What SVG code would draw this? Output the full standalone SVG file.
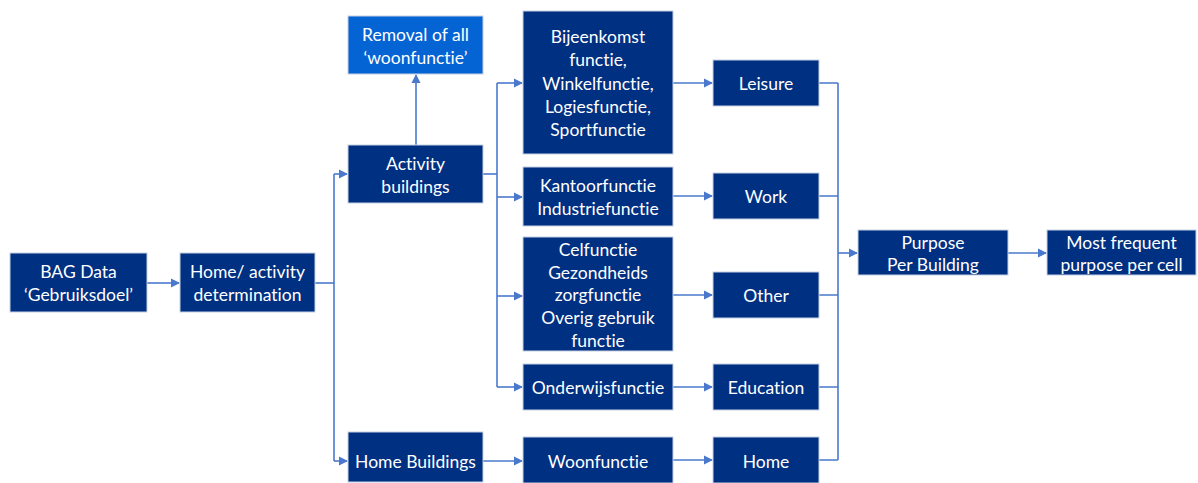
<svg xmlns="http://www.w3.org/2000/svg" width="1198" height="483" viewBox="0 0 1198 483">
  <style>
    .box { fill: #003082; stroke: #c5d0e3; stroke-width: 1; }
    .box2 { fill: #0564D4; stroke: #c5d0e3; stroke-width: 1; }
    text { font-family: Lato, "Liberation Sans", sans-serif; font-size: 17.5px; fill: #ffffff; text-anchor: middle; dominant-baseline: central; font-variant-ligatures: none; font-feature-settings: "liga" 0, "clig" 0; }
    .conn { fill: none; stroke: #4a78cc; stroke-width: 1.6; }
  </style>
  <defs>
    <marker id="arr" markerWidth="10" markerHeight="10" refX="8" refY="5" orient="auto" markerUnits="userSpaceOnUse">
      <path d="M0,0.5 L9,5 L0,9.5 Z" fill="#4a78cc"/>
    </marker>
  </defs>
  <rect width="1198" height="483" fill="#ffffff"/>

  <g id="connectors">
    <path class="conn" d="M147,283 H179" marker-end="url(#arr)"/>
    <path class="conn" d="M315,283 H334"/>
    <path class="conn" d="M334,174 V461"/>
    <path class="conn" d="M334,174 H347" marker-end="url(#arr)"/>
    <path class="conn" d="M334,461 H347" marker-end="url(#arr)"/>
    <path class="conn" d="M416,145 V75" marker-end="url(#arr)"/>
    <path class="conn" d="M483,174 H497"/>
    <path class="conn" d="M497,83 V387"/>
    <path class="conn" d="M497,83 H522" marker-end="url(#arr)"/>
    <path class="conn" d="M497,197 H522" marker-end="url(#arr)"/>
    <path class="conn" d="M497,296 H522" marker-end="url(#arr)"/>
    <path class="conn" d="M497,387 H522" marker-end="url(#arr)"/>
    <path class="conn" d="M483,461 H522" marker-end="url(#arr)"/>
    <path class="conn" d="M673,83 H712" marker-end="url(#arr)"/>
    <path class="conn" d="M673,196 H712" marker-end="url(#arr)"/>
    <path class="conn" d="M673,295 H712" marker-end="url(#arr)"/>
    <path class="conn" d="M673,387 H712" marker-end="url(#arr)"/>
    <path class="conn" d="M673,460 H712" marker-end="url(#arr)"/>
    <path class="conn" d="M819,83 H838 M819,196 H838 M819,295 H838 M819,387 H838 M819,460 H838"/>
    <path class="conn" d="M838,83 V460"/>
    <path class="conn" d="M838,253 H857" marker-end="url(#arr)"/>
    <path class="conn" d="M1008,253 H1046" marker-end="url(#arr)"/>
  </g>

  <g id="bag">
    <rect class="box" x="10" y="253" width="137" height="59"/>
    <text x="78.5" y="271">BAG Data</text>
    <text x="78.5" y="294">‘Gebruiksdoel’</text>
  </g>
  <g id="home-activity">
    <rect class="box" x="180" y="253" width="135" height="59"/>
    <text x="247.5" y="271">Home/ activity</text>
    <text x="247.5" y="294">determination</text>
  </g>
  <g id="removal">
    <rect class="box2" x="348" y="16" width="135" height="58"/>
    <text x="415.5" y="34">Removal of all</text>
    <text x="415.5" y="57">‘woonfunctie’</text>
  </g>
  <g id="activity">
    <rect class="box" x="348" y="145" width="135" height="58"/>
    <text x="415.5" y="163">Activity</text>
    <text x="415.5" y="186">buildings</text>
  </g>
  <g id="home-buildings">
    <rect class="box" x="348" y="432" width="135" height="50"/>
    <text x="415.5" y="461">Home Buildings</text>
  </g>
  <g id="bijeenkomst">
    <rect class="box" x="523" y="11" width="150" height="143"/>
    <text x="598" y="36">Bijeenkomst</text>
    <text x="598" y="59">functie,</text>
    <text x="598" y="83">Winkelfunctie,</text>
    <text x="598" y="106">Logiesfunctie,</text>
    <text x="598" y="129">Sportfunctie</text>
  </g>
  <g id="kantoor">
    <rect class="box" x="523" y="167" width="150" height="59"/>
    <text x="598" y="185">Kantoorfunctie</text>
    <text x="598" y="208">Industriefunctie</text>
  </g>
  <g id="celfunctie">
    <rect class="box" x="523" y="237" width="150" height="114"/>
    <text x="598" y="249">Celfunctie</text>
    <text x="598" y="272">Gezondheids</text>
    <text x="598" y="294">zorgfunctie</text>
    <text x="598" y="317">Overig gebruik</text>
    <text x="598" y="340">functie</text>
  </g>
  <g id="onderwijs">
    <rect class="box" x="523" y="364" width="150" height="46"/>
    <text x="598" y="387">Onderwijsfunctie</text>
  </g>
  <g id="woonfunctie">
    <rect class="box" x="523" y="437" width="150" height="46"/>
    <text x="598" y="461">Woonfunctie</text>
  </g>
  <g id="leisure">
    <rect class="box" x="713" y="60" width="106" height="46"/>
    <text x="766" y="83">Leisure</text>
  </g>
  <g id="work">
    <rect class="box" x="713" y="173" width="106" height="46"/>
    <text x="766" y="196">Work</text>
  </g>
  <g id="other">
    <rect class="box" x="713" y="272" width="106" height="46"/>
    <text x="766" y="295">Other</text>
  </g>
  <g id="education">
    <rect class="box" x="713" y="364" width="106" height="46"/>
    <text x="766" y="387">Education</text>
  </g>
  <g id="home">
    <rect class="box" x="713" y="437" width="106" height="46"/>
    <text x="766" y="461">Home</text>
  </g>
  <g id="purpose">
    <rect class="box" x="858" y="230" width="150" height="45"/>
    <text x="933" y="242">Purpose</text>
    <text x="933" y="264">Per Building</text>
  </g>
  <g id="most-frequent">
    <rect class="box" x="1047" y="230" width="149" height="45"/>
    <text x="1121.5" y="242">Most frequent</text>
    <text x="1121.5" y="264">purpose per cell</text>
  </g>
</svg>
